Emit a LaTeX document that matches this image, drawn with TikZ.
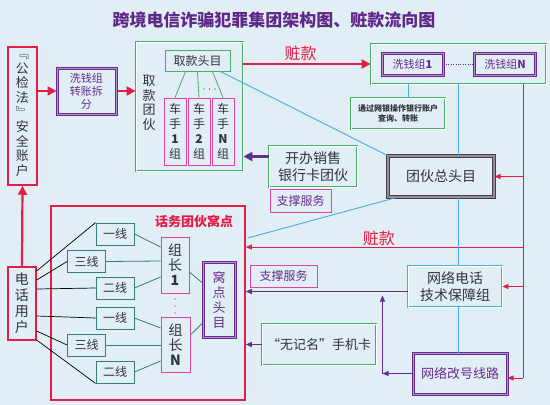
\documentclass[tikz,border=0pt]{standalone}
\usepackage{fontspec}
\setmainfont{Noto Sans CJK SC}
\usetikzlibrary{positioning,calc,arrows.meta}
\definecolor{bgblue}{RGB}{226,238,246}
\definecolor{zred}{RGB}{226,30,70}
\definecolor{zgreen}{RGB}{70,175,100}
\definecolor{zpurple}{RGB}{100,45,140}
\definecolor{zlav}{RGB}{175,145,205}
\definecolor{zmag}{RGB}{220,70,160}
\definecolor{zteal}{RGB}{50,125,125}
\definecolor{zblue}{RGB}{70,175,225}
\definecolor{zgray}{RGB}{150,140,150}
\definecolor{zdgray}{RGB}{70,60,70}
\definecolor{zdark}{RGB}{50,50,60}
\definecolor{ztitle}{RGB}{95,40,135}

\begin{document}
\begin{tikzpicture}[x=1pt, y=-1pt,
        every node/.style = {font=\fontsize{12}{15}\selectfont, text=zdark, align=center, inner sep=1pt},
        redbox/.style = {draw=zred, line width=1.5pt, fill=bgblue},
        gbox/.style = {draw=zgreen, line width=0.8pt, double=white, double distance=0.9pt, fill=bgblue},
        gsingle/.style = {draw=zgreen, line width=1pt, fill=bgblue},
        pbox/.style = {draw=zpurple, line width=1pt, double=zlav, double distance=1pt, fill=bgblue},
        mbox/.style = {draw=zmag, line width=0.8pt, fill=bgblue},
        tbox/.style = {draw=zteal, line width=0.8pt, fill=bgblue},
        bdbox/.style = {draw=zblue, line width=0.8pt, double=white, double distance=0.9pt, fill=bgblue},
        gybox/.style = {draw=zdgray, line width=1pt, double=zgray, double distance=1.5pt, fill=bgblue},
        rarrow/.style = {draw=zred, line width=2.2pt, -{Triangle[length=9pt,width=9pt]}},
        rsmall/.style = {draw=zred, line width=0.8pt, -{Triangle[length=6pt,width=5pt]}},
        rline/.style = {draw=zred, line width=0.8pt},
        parrow/.style = {draw=zpurple, line width=2.2pt, -{Triangle[length=9pt,width=9pt]}},
        psmall/.style = {draw=zpurple, line width=0.8pt, -{Triangle[length=6pt,width=5pt]}},
        bline/.style = {draw=zblue, line width=0.9pt},
        gline/.style = {draw=zgreen, line width=0.8pt},
        kline/.style = {draw=black, line width=0.7pt},
        tline/.style = {draw=zteal, line width=0.8pt}
        ]
        \fill[bgblue] (0,0) rectangle (550,405);
        \useasboundingbox (0,0) rectangle (550,405);

        \node[text=ztitle, font=\fontsize{17}{20}\selectfont\bfseries] (title) at (274,20) {跨境电信诈骗犯罪集团架构图、赃款流向图};

        % left column
        \node[redbox, minimum width=29, minimum height=138, font=\fontsize{13}{14.6}\selectfont] (gjf) at (22.5,116) {﹃\\公\\检\\法\\﹄\\安\\全\\账\\户};
        \node[pbox, minimum width=59, minimum height=46, text=zpurple, font=\fontsize{11}{13}\selectfont] (xqz) at (86.5,91) {洗钱组\\转账拆\\分};

        % cash withdrawal gang
        \node[gbox, minimum width=107, minimum height=129] (quk) at (189.5,106.5) {};
        \node[font=\fontsize{13}{14.5}\selectfont] (qklab) at (149,103) {取\\款\\团\\伙};
        \node[gsingle, minimum width=65, minimum height=21] (qktm) at (197.5,60.5) {取款头目};
        \foreach \n/\x in {1/175, 2/199, N/223}
            \node[mbox, minimum width=22, minimum height=67] (cs\n) at (\x,131.5) {车\\手\\\textbf{\n}\\组};
        \draw[gline] ($(qktm.south)+(-12,0)$) -- (cs1.north);
        \draw[gline] ($(qktm.south)+(0,0)$) -- (cs2.north);
        \draw[gline] ($(qktm.south)+(15,0)$) -- (csN.north);
        \foreach \d in {204,209.5,215}
            \fill[zdark] (\d,89) circle (0.6);

        % money laundering groups
        \node[gbox, minimum width=175, minimum height=40] (xq) at (458.5,64) {};
        \node[pbox, minimum width=61, minimum height=22, text=zpurple, font=\fontsize{11}{13}\selectfont] (xq1) at (412.5,64) {洗钱组\textbf{1}};
        \node[pbox, minimum width=61, minimum height=22, text=zpurple, font=\fontsize{11}{13}\selectfont] (xqN) at (505,64) {洗钱组\textbf{N}};
        \draw[zpurple, dotted] (xq1) -- (xqN);
        \node[gbox, minimum width=94, minimum height=31, font=\fontsize{8}{10}\selectfont\bfseries] (wy) at (398,113.5) {通过网银操作银行账户\\查询、转账};

        \node[gybox, minimum width=106, minimum height=41, font=\fontsize{14}{16}\selectfont] (ztm) at (441,176.5) {团伙总头目};
        \node[gbox, minimum width=88, minimum height=41, font=\fontsize{14}{17}\selectfont] (kb) at (313,166.5) {开办销售\\银行卡团伙};
        \node[mbox, minimum width=61, minimum height=23, text=zpurple] (zc1) at (300.5,200.5) {支撑服务};

        % call centre den
        \node[redbox, minimum width=194, minimum height=194] (hw) at (148,303) {};
        \node[text=zred, font=\fontsize{13}{15}\selectfont\bfseries] (hwlab) at (194,221) {话务团伙窝点};
        \node[redbox, line width=1.2pt, minimum width=28, minimum height=73, font=\fontsize{14}{16}\selectfont] (dh) at (22,303.5) {电\\话\\用\\户};
        \foreach \n/\x/\y/\t in {y1a/115/234/一线, s1a/86.5/261.5/三线, e1a/115/288/二线, y1b/115/318/一线, s1b/86.5/345/三线, e1b/115/372/二线}
            \node[tbox, minimum width=38, minimum height=22] (\n) at (\x,\y) {\t};
        \node[mbox, minimum width=28, minimum height=56, font=\fontsize{14}{15}\selectfont] (zz1) at (175,265) {组\\长\\\textbf{1}};
        \node[mbox, minimum width=29, minimum height=55, font=\fontsize{14}{15}\selectfont] (zzN) at (175.5,344.5) {组\\长\\\textbf{N}};
        \foreach \d in {299,306,313}
            \fill[zdark] (175,\d) circle (0.6);
        \node[pbox, minimum width=32, minimum height=75, text=zpurple, font=\fontsize{13}{15}\selectfont] (wd) at (219,299.5) {窝\\点\\头\\目};

        % support groups
        \node[mbox, minimum width=67, minimum height=22, text=zpurple] (zc2) at (283.5,276) {支撑服务};
        \node[bdbox, minimum width=94, minimum height=41, font=\fontsize{14}{17}\selectfont] (wl) at (455,286.5) {网络电话\\技术保障组};
        \node[pbox, minimum width=94, minimum height=41, text=zpurple, font=\fontsize{13}{15}\selectfont] (gh) at (460,373.5) {网络改号线路};
        \node[gbox, minimum width=114, minimum height=41, font=\fontsize{13}{15}\selectfont] (wjm) at (319,344.5) {“无记名”手机卡};

        % money flow
        \draw[rarrow] (gjf.east |- xqz.west) -- (xqz.west);
        \draw[rarrow] (xqz.east) -- (quk.west |- xqz.east);
        \draw[rarrow] (dh.north) -- (gjf.south);
        \draw[rarrow] (quk.east |- xq.west) -- (xq.west) node[pos=0.45, above=1pt, text=zred, font=\fontsize{16}{18}\selectfont] {赃款};
        \coordinate (r0) at (523,84);
        \coordinate (r1) at (523,378);
        \coordinate (r2) at (523,247);
        \draw[rline] (r0) -- (r1);
        \draw[rsmall] (r0 |- ztm.east) -- (ztm.east);
        \draw[rsmall] (r0 |- wl.east) -- (wl.east);
        \draw[rsmall] (r1) -- (r1 -| gh.east);
        \draw[rsmall] (r2) -- (r2 -| hw.east) node[pos=0.52, above=0pt, text=zred, font=\fontsize{16}{18}\selectfont] {赃款};

        % services
        \coordinate (k1) at ($(kb.west)+(0,-10)$);
        \draw[parrow] (k1) -- (k1 -| quk.east);
        \coordinate (w1) at ($(wl.west)+(0,5)$);
        \draw[psmall] (w1) -- (w1 -| hw.east);
        \coordinate (g1) at ($(gh.west)+(-30,0)$);
        \draw[psmall] (gh.west) -- (g1);
        \draw[psmall] (g1) -- ($(g1 |- w1)+(0,4)$);
        \draw[psmall] (wjm.west) -- (wjm.west -| hw.east);

        % blue links
        \coordinate (b1) at ($(wy.north)+(10,0)$);
        \draw[bline] (b1) -- (b1 |- xq.south);
        \draw[bline] (xq.south) -- (xq.south |- ztm.north);
        \draw[bline] (xq.south |- ztm.south) -- (xq.south |- wl.north);
        \draw[bline] (xq.south |- wl.south) -- (xq.south |- gh.north);
        \draw[bline] ($(qktm.south east)+(-10,0)$) -- (ztm.north west);
        \draw[bline] ($(ztm.south west)+(9,0)$) -- ($(hw.east)+(2,-65)$);

        % phone lines
        \draw[kline] ($(dh.east)+(0,-32.5)$) -- (y1a.north west);
        \draw[kline] ($(dh.east)+(0,-23.5)$) -- (s1a.west);
        \draw[kline] ($(dh.east)+(0,-14.5)$) -- (e1a.west);
        \draw[kline] ($(dh.east)+(0,12.5)$) -- (y1b.west);
        \draw[kline] ($(dh.east)+(0,27.5)$) -- (s1b.west);
        \draw[kline] ($(dh.east)+(0,36.5)$) -- (e1b.south west);
        \draw[tline] (y1a.east) -- ($(zz1.west)+(0,-18)$);
        \draw[tline] (s1a.east) -- ($(zz1.west)+(0,-4)$);
        \draw[tline] (e1a.east) -- ($(zz1.west)+(0,12)$);
        \draw[tline] (y1b.east) -- ($(zzN.west)+(0,-16.5)$);
        \draw[tline] (s1b.east) -- ($(zzN.west)+(0,0.5)$);
        \draw[tline] (e1b.east) -- ($(zzN.west)+(0,16.5)$);
        \draw[tline] ($(zz1.east)+(0,7)$) -- ($(wd.west)+(0,-16.5)$);
        \draw[tline] ($(zzN.east)+(0,-9.5)$) -- ($(wd.west)+(0,23.5)$);
\end{tikzpicture}
\end{document}
